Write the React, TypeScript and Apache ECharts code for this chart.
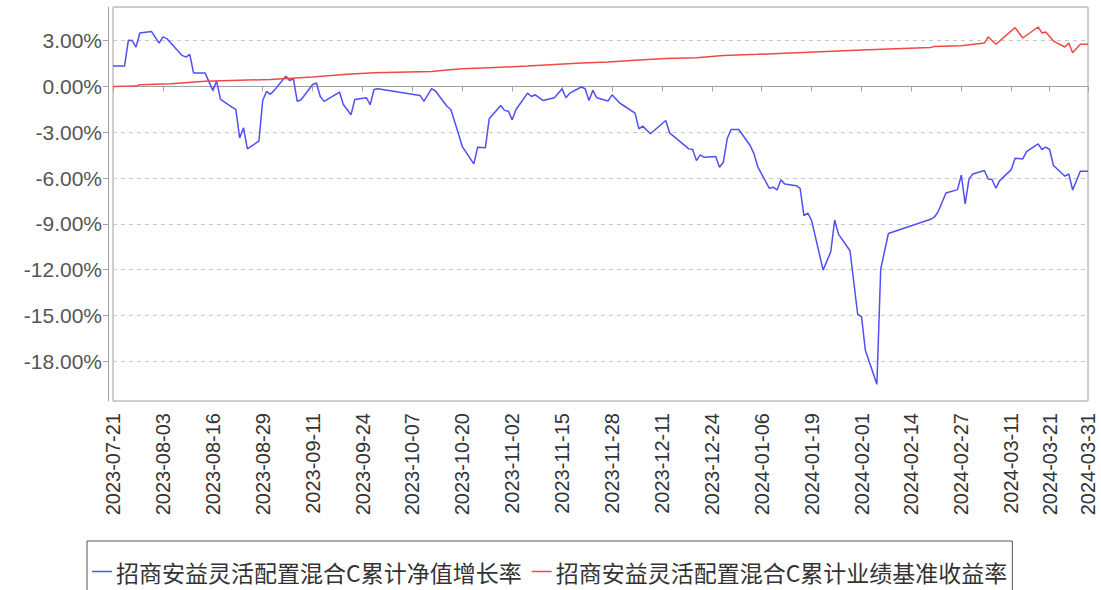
import React, { useEffect, useRef } from "react";
import * as echarts from "echarts";

const SERIES_NAMES = [
  "招商安益灵活配置混合C累计净值增长率",
  "招商安益灵活配置混合C累计业绩基准收益率",
];

const START_DAY = "2023-07-21";
const END_DAY = "2024-03-31";

const TICK_LABELS = [
  "2023-07-21", "2023-08-03", "2023-08-16", "2023-08-29", "2023-09-11",
  "2023-09-24", "2023-10-07", "2023-10-20", "2023-11-02", "2023-11-15",
  "2023-11-28", "2023-12-11", "2023-12-24", "2024-01-06", "2024-01-19",
  "2024-02-01", "2024-02-14", "2024-02-27", "2024-03-11", "2024-03-21",
  "2024-03-31",
];

const NAV_DATES = [
  "2023-07-21", "2023-07-24", "2023-07-25", "2023-07-26", "2023-07-27", "2023-07-28", "2023-07-31",
  "2023-08-02", "2023-08-03", "2023-08-04", "2023-08-08", "2023-08-09", "2023-08-10", "2023-08-11",
  "2023-08-14", "2023-08-16", "2023-08-17", "2023-08-18", "2023-08-21", "2023-08-22", "2023-08-23",
  "2023-08-24", "2023-08-25", "2023-08-28", "2023-08-29", "2023-08-30", "2023-08-31", "2023-09-01",
  "2023-09-04", "2023-09-05", "2023-09-06", "2023-09-07", "2023-09-08", "2023-09-11", "2023-09-12",
  "2023-09-13", "2023-09-14", "2023-09-18", "2023-09-19", "2023-09-21", "2023-09-22", "2023-09-25",
  "2023-09-26", "2023-09-27", "2023-09-28", "2023-10-09", "2023-10-10", "2023-10-12", "2023-10-13",
  "2023-10-16", "2023-10-17", "2023-10-19", "2023-10-20", "2023-10-23", "2023-10-24", "2023-10-26",
  "2023-10-27", "2023-10-30", "2023-10-31", "2023-11-01", "2023-11-02", "2023-11-03", "2023-11-06",
  "2023-11-07", "2023-11-08", "2023-11-10", "2023-11-13", "2023-11-15", "2023-11-16", "2023-11-17",
  "2023-11-20", "2023-11-21", "2023-11-22", "2023-11-23", "2023-11-24", "2023-11-27", "2023-11-28",
  "2023-11-30", "2023-12-01", "2023-12-04", "2023-12-05", "2023-12-06", "2023-12-08", "2023-12-12",
  "2023-12-13", "2023-12-18", "2023-12-19", "2023-12-20", "2023-12-21", "2023-12-22", "2023-12-25",
  "2023-12-26", "2023-12-27", "2023-12-28", "2023-12-29", "2023-12-31", "2024-01-03", "2024-01-04",
  "2024-01-05", "2024-01-08", "2024-01-09", "2024-01-10", "2024-01-11", "2024-01-12", "2024-01-15",
  "2024-01-16", "2024-01-17", "2024-01-18", "2024-01-19", "2024-01-22", "2024-01-24", "2024-01-25",
  "2024-01-26", "2024-01-29", "2024-01-31", "2024-02-01", "2024-02-02", "2024-02-05", "2024-02-06",
  "2024-02-08", "2024-02-19", "2024-02-20", "2024-02-21", "2024-02-23", "2024-02-26", "2024-02-27",
  "2024-02-28", "2024-02-29", "2024-03-01", "2024-03-04", "2024-03-05", "2024-03-06", "2024-03-07",
  "2024-03-08", "2024-03-11", "2024-03-12", "2024-03-14", "2024-03-15", "2024-03-18", "2024-03-19",
  "2024-03-20", "2024-03-21", "2024-03-22", "2024-03-25", "2024-03-26", "2024-03-27", "2024-03-29",
  "2024-03-31",
];

const NAV_VALUES = [
  1.33, 1.33, 3.02, 3.0, 2.58, 3.5, 3.6,
  2.84, 3.24, 3.13, 2.03, 1.92, 2.1, 0.87,
  0.87, -0.26, 0.35, -0.85, -1.36, -1.51, -3.37,
  -2.71, -4.09, -3.59, -0.92, -0.33, -0.52, -0.26,
  0.66, 0.39, 0.5, -0.98, -0.87, 0.13, 0.22,
  -0.66, -0.98, -0.37, -1.18, -1.86, -0.85, -0.74,
  -1.2, -0.2, -0.15, -0.59, -0.98, -0.15, -0.3,
  -1.3, -1.51, -3.1, -3.94, -5.07, -3.98, -4.02,
  -2.12, -1.25, -1.57, -1.62, -2.19, -1.51, -0.44,
  -0.66, -0.55, -0.92, -0.74, -0.15, -0.74, -0.44,
  -0.04, -0.15, -0.92, -0.26, -0.74, -0.95, -0.55,
  -1.09, -1.25, -1.75, -2.78, -2.6, -3.1, -2.23,
  -3.04, -4.09, -4.13, -4.86, -4.48, -4.64, -4.59,
  -5.29, -4.97, -3.43, -2.82, -2.82, -3.87, -4.42,
  -5.29, -6.67, -6.6, -6.78, -6.12, -6.39, -6.5,
  -6.67, -8.46, -8.29, -8.79, -12.03, -10.81, -8.75,
  -9.67, -10.76, -14.92, -15.07, -17.28, -19.51, -11.96,
  -9.63, -8.7, -8.55, -8.18, -6.98, -6.76, -5.8,
  -7.7, -6.06, -5.73, -5.51, -6.06, -6.1, -6.67,
  -6.17, -5.45, -4.7, -4.75, -4.27, -3.76, -4.13,
  -3.98, -4.13, -5.18, -5.88, -5.73, -6.78, -5.56,
  -5.56,
];

const BENCH_DATES = [
  "2023-07-21", "2023-07-27", "2023-07-28", "2023-08-05", "2023-08-14", "2023-08-31",
  "2023-09-11", "2023-09-20", "2023-09-27", "2023-10-12", "2023-10-16", "2023-10-20",
  "2023-10-27", "2023-11-06", "2023-11-13", "2023-11-20", "2023-11-27", "2023-12-04",
  "2023-12-12", "2023-12-20", "2023-12-27", "2024-01-05", "2024-01-09", "2024-01-29",
  "2024-02-08", "2024-02-19", "2024-02-20", "2024-02-27", "2024-03-04", "2024-03-05",
  "2024-03-07", "2024-03-12", "2024-03-14", "2024-03-18", "2024-03-19", "2024-03-20",
  "2024-03-22", "2024-03-25", "2024-03-26", "2024-03-27", "2024-03-29", "2024-03-31",
];

const BENCH_VALUES = [
  0.0, 0.02, 0.11, 0.18, 0.33, 0.46,
  0.61, 0.79, 0.9, 0.98, 1.07, 1.16,
  1.23, 1.33, 1.44, 1.53, 1.6, 1.71,
  1.82, 1.88, 2.03, 2.1, 2.14, 2.35,
  2.45, 2.55, 2.62, 2.67, 2.84, 3.24,
  2.76, 3.85, 3.17, 3.89, 3.5, 3.56,
  2.97, 2.58, 2.84, 2.21, 2.76, 2.76,
];

const Y_MIN = -20.6;
const Y_MAX = 5.2;

function buildDays(start: string, end: string): string[] {
  const out: string[] = [];
  let t = Date.parse(start + "T00:00:00Z");
  const e = Date.parse(end + "T00:00:00Z");
  while (t <= e) {
    out.push(new Date(t).toISOString().slice(0, 10));
    t += 86400000;
  }
  return out;
}

function toSeries(days: string[], dates: string[], values: number[]) {
  const m = new Map<string, number>();
  dates.forEach((d, i) => m.set(d, values[i]));
  return days.map((d) => (m.has(d) ? (m.get(d) as number) : null));
}

export default function App() {
  const ref = useRef<HTMLDivElement>(null);

  useEffect(() => {
    if (!ref.current) return;
    const chart = echarts.init(ref.current, undefined, { renderer: "svg" });
    const days = buildDays(START_DAY, END_DAY);
    const labelSet = new Set(TICK_LABELS);
    const showFn = (_i: number, v: string) => labelSet.has(v);

    chart.setOption({
      animation: false,
      backgroundColor: "#ffffff",
      grid: {
        left: 113,
        top: 7,
        right: 13,
        bottom: 189,
        show: true,
        borderColor: "#a0a0a0",
        borderWidth: 1,
        backgroundColor: "transparent",
      },
      legend: {
        left: 87,
        top: 541,
        orient: "horizontal",
        padding: [19, 5, 19, 5],
        borderColor: "#555555",
        borderWidth: 1,
        borderRadius: 0,
        icon: "rect",
        itemWidth: 20,
        itemHeight: 1.5,
        itemGap: 10,
        textStyle: {
          fontSize: 23,
          color: "#333333",
          fontFamily: "Noto Sans CJK SC",
          padding: [0, 0, 0, -1],
        },
        data: SERIES_NAMES,
      },
      xAxis: {
        type: "category",
        data: days,
        boundaryGap: false,
        offset: 6,
        axisLine: { show: true, lineStyle: { color: "#a0a0a0", width: 1 } },
        axisTick: {
          show: true,
          interval: showFn,
          length: 5,
          lineStyle: { color: "#a0a0a0" },
        },
        axisLabel: {
          interval: showFn,
          rotate: 90,
          fontSize: 20,
          color: "#333333",
          fontFamily: "Liberation Sans",
          margin: 6,
          hideOverlap: false,
        },
        splitLine: { show: false },
      },
      yAxis: {
        type: "value",
        min: Y_MIN,
        max: Y_MAX,
        splitNumber: 8,
        offset: 5,
        axisLine: { show: true, lineStyle: { color: "#a0a0a0", width: 1 } },
        axisTick: { show: true, length: 5, lineStyle: { color: "#a0a0a0" } },
        axisLabel: {
          fontSize: 21,
          color: "#555555",
          fontFamily: "Liberation Sans",
          margin: 6,
          showMinLabel: false,
          showMaxLabel: false,
          formatter: (v: number) => v.toFixed(2) + "%",
        },
        splitLine: {
          show: true,
          lineStyle: { color: "#c8c8c8", type: [4, 4], width: 1 },
        },
      },
      series: [
        {
          name: SERIES_NAMES[0],
          type: "line",
          data: toSeries(days, NAV_DATES, NAV_VALUES),
          connectNulls: true,
          symbol: "none",
          lineStyle: { color: "#4f4ff5", width: 1.5 },
          itemStyle: { color: "#4f4ff5" },
        },
        {
          name: SERIES_NAMES[1],
          type: "line",
          data: toSeries(days, BENCH_DATES, BENCH_VALUES),
          connectNulls: true,
          symbol: "none",
          lineStyle: { color: "#f04848", width: 1.5 },
          itemStyle: { color: "#f04848" },
        },
      ],
    });

    return () => chart.dispose();
  }, []);

  return (
    <div
      ref={ref}
      style={{ position: "fixed", left: 0, top: 0, width: 1101, height: 590 }}
    />
  );
}
